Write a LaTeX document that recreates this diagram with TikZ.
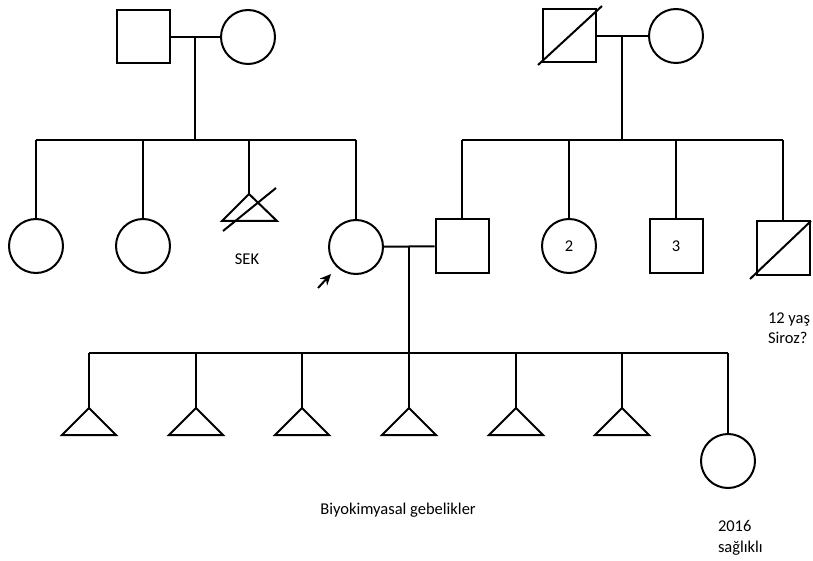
\documentclass[tikz,border=0pt]{standalone}
\usepackage{fontspec}
\setmainfont{Carlito}
\usetikzlibrary{arrows.meta}
\begin{document}
\begin{tikzpicture}[x=1pt,y=-1pt,line width=2pt,
  male/.style={draw,rectangle,minimum size=53pt,inner sep=0pt},
  female/.style={draw,circle,minimum size=54pt,inner sep=0pt},
  lbl/.style={font=\fontsize{16.5}{20.5}\selectfont,inner sep=0pt},
  lblL/.style={lbl,anchor=west,align=left}]
\useasboundingbox (0,0) rectangle (813,561);
% generation I
\node[male] (gf1) at (143,37) {};
\node[female] (gm1) at (248,37) {};
\node[male] (gf2) at (569,36) {};
\node[female] (gm2) at (676,36) {};
\draw (538,65) -- (602,6);
% generation II
\node[female] (a1) at (36,246) {};
\node[female] (a2) at (143,246) {};
\coordinate (sekapex) at (249,194);
\draw (sekapex) -- (222,221) -- (277,221) -- cycle;
\draw (223,231) -- (276,188);
\node[lbl] (sek) at (247,259) {SEK};
\node[female] (pro) at (356,247) {};
\node[male] (hus) at (462,246) {};
\node[female] (b2) at (569,246) {\fontsize{16.5}{20.5}\selectfont 2};
\node[male] (b3) at (676,246) {\fontsize{16.5}{20.5}\selectfont 3};
\node[male] (b4) at (783,248) {};
\draw (750,279) -- (811,221);
\node[lblL] (b4t) at (767,328) {12 yaş\\Siroz?};
\draw[-{Stealth[length=11pt,width=10pt]},line width=2pt] (318,288) -- (331,274);
% generation III
\foreach \i/\x in {1/89,2/196,3/302,4/409,5/516,6/622}{
  \coordinate (p\i) at (\x,408);
  \draw (p\i) -- (\x-27,435) -- (\x+27,435) -- cycle;
  \draw (\x,353) -- (p\i);
}
\node[female] (c7) at (728,461) {};
\node[lbl] (bio) at (398,510) {Biyokimyasal gebelikler};
\node[lblL] (c7t) at (717,538) {2016\\sağlıklı};
% marriage and descent lines
\draw (gf1) -- (gm1);
\draw (gf2) -- (gm2);
\draw (pro) -- (hus);
\draw (195,37) -- (195,140);
\draw (622,36) -- (622,140);
\draw (36,140) -- (356,140);
\draw (462,140) -- (783,140);
\draw (36,140) -- (a1);
\draw (143,140) -- (a2);
\draw (249,140) -- (sekapex);
\draw (356,140) -- (pro);
\draw (462,140) -- (hus);
\draw (569,140) -- (b2);
\draw (676,140) -- (b3);
\draw (783,140) -- (b4);
\draw (409,246) -- (409,353);
\draw (89,353) -- (728,353);
\draw (728,353) -- (c7);
\end{tikzpicture}
\end{document}
